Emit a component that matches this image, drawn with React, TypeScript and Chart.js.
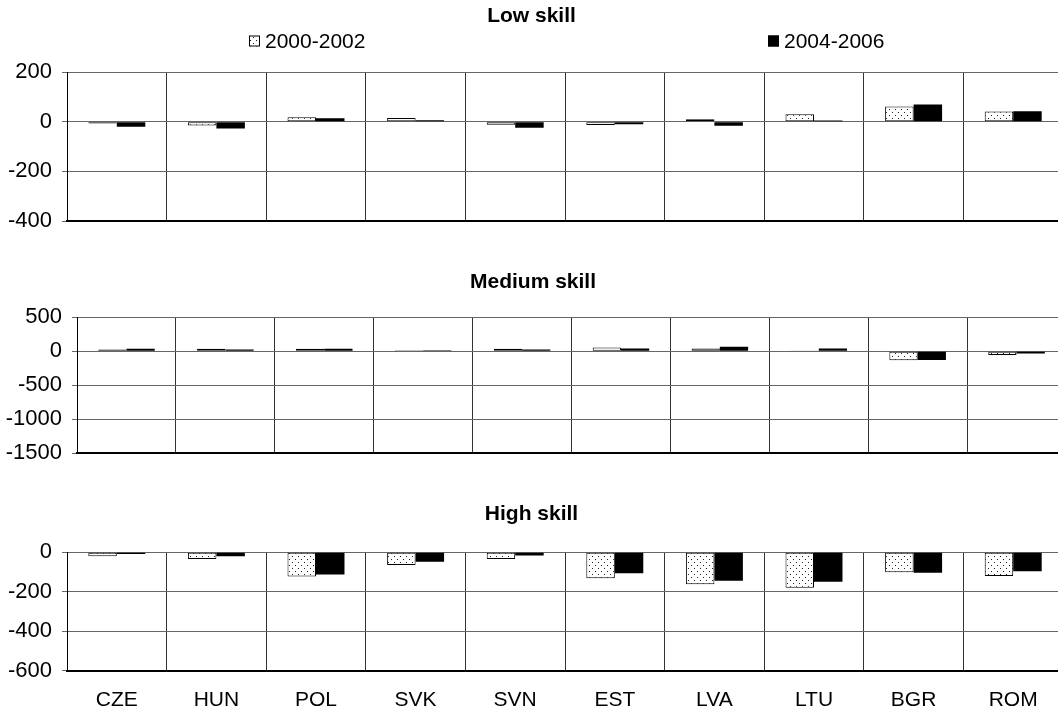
import React, { useEffect, useRef } from 'react';
import { Chart, registerables } from 'chart.js';

Chart.register(...registerables);

const categories = ['CZE', 'HUN', 'POL', 'SVK', 'SVN', 'EST', 'LVA', 'LTU', 'BGR', 'ROM'];
const seriesLabels = ['2000-2002', '2004-2006'];

const lowA = [-7, -15, 18, 15, -12, -13, 10, 30, 62, 42];
const lowB = [-20, -27, 14, 6, -24, -10, -16, 5, 70, 43];

const medA = [25, 35, 35, 15, 35, 55, 40, 10, -135, -55];
const medB = [35, 25, 35, 12, 25, 40, 65, 40, -130, -35];

const highA = [-21, -34, -123, -65, -34, -132, -162, -180, -101, -121];
const highB = [-9, -21, -113, -48, -17, -106, -144, -150, -104, -97];

const lowTicks = [-400, 200, 200];
const medTicks = [-1500, 500, 500];
const highTicks = [-600, 0, 200];

const FONT = "'Liberation Sans', Arial, Helvetica, sans-serif";

function makeDotPattern(): CanvasPattern | string {
  const c = document.createElement('canvas');
  c.width = 6;
  c.height = 6;
  const g = c.getContext('2d');
  if (!g) return '#ddd';
  g.fillStyle = '#ffffff';
  g.fillRect(0, 0, 6, 6);
  g.fillStyle = '#222222';
  g.fillRect(1, 1, 1, 1);
  g.fillRect(4, 4, 1, 1);
  const p = g.createPattern(c, 'repeat');
  return p || '#ddd';
}

const legendPlugin = {
  id: 'manualLegend',
  afterDraw(chart: any, _args: any, opts: any) {
    if (!opts || !opts.show) return;
    const ctx = chart.ctx;
    ctx.save();
    chart.data.datasets.forEach((ds: any, i: number) => {
      const x = opts.xs[i];
      const y = opts.y;
      const s = 11;
      ctx.fillStyle = ds.backgroundColor;
      ctx.fillRect(x, y - s / 2, s, s);
      ctx.strokeStyle = '#000';
      ctx.lineWidth = 1;
      ctx.strokeRect(x + 0.5, y - s / 2 + 0.5, s - 1, s - 1);
      ctx.fillStyle = '#000';
      ctx.font = `21px ${FONT}`;
      ctx.textBaseline = 'middle';
      ctx.textAlign = 'left';
      ctx.fillText(ds.label, x + s + 5, y + 1);
    });
    ctx.restore();
  },
};

type PanelProps = {
  title: string;
  a: number[];
  b: number[];
  ticks: number[];
  top: number;
  width: number;
  height: number;
  axisWidth: number;
  padRight: number;
  padBottom: number;
  titleTop: number;
  titleBottom: number;
  showLegend: boolean;
  showX: boolean;
};

function Panel(p: PanelProps) {
  const ref = useRef<HTMLCanvasElement>(null);
  useEffect(() => {
    if (!ref.current) return;
    const pattern = makeDotPattern();
    const chart = new Chart(ref.current, {
      type: 'bar',
      data: {
        labels: categories,
        datasets: [
          {
            label: seriesLabels[0],
            data: p.a,
            backgroundColor: pattern as any,
            borderColor: '#000',
            borderWidth: 1,
            borderSkipped: false,
          },
          {
            label: seriesLabels[1],
            data: p.b,
            backgroundColor: '#000',
            borderColor: '#000',
            borderWidth: 0,
            borderSkipped: false,
          },
        ],
      },
      options: {
        responsive: false,
        animation: false,
        devicePixelRatio: 1,
        maintainAspectRatio: false,
        datasets: { bar: { categoryPercentage: 0.572, barPercentage: 1 } },
        layout: { padding: { left: 0, right: p.padRight, top: 0, bottom: p.padBottom } },
        plugins: {
          legend: { display: false },
          tooltip: { enabled: false },
          title: {
            display: true,
            text: p.title,
            color: '#000',
            font: { family: FONT, size: 21, weight: 'bold', lineHeight: 1.2 },
            padding: { top: p.titleTop, bottom: p.titleBottom },
          },
          manualLegend: { show: p.showLegend, xs: [249, 768], y: 41 },
        } as any,
        scales: {
          x: {
            grid: { offset: true, color: '#333', drawTicks: false, lineWidth: 1 },
            border: { color: '#000', width: 2 },
            ticks: {
              display: p.showX,
              color: '#000',
              font: { family: FONT, size: 21 },
              padding: 17,
              maxRotation: 0,
              autoSkip: false,
            },
          },
          y: {
            min: p.ticks[0],
            max: p.ticks[1],
            afterFit: (scale: any) => {
              scale.width = p.axisWidth;
            },
            ticks: {
              stepSize: p.ticks[2],
              color: '#000',
              font: { family: FONT, size: 22 },
              padding: 10,
              callback: (v: any) => String(v),
            },
            grid: { color: '#666', tickLength: 5, lineWidth: 1 },
            border: { color: '#000', width: 1 },
          },
        },
      },
      plugins: [legendPlugin],
    });
    return () => chart.destroy();
  }, []);
  return (
    <div style={{ position: 'absolute', left: 0, top: p.top }}>
      <canvas
        ref={ref}
        width={p.width}
        height={p.height}
        style={{ display: 'block', width: p.width, height: p.height }}
      />
    </div>
  );
}

export default function App() {
  return (
    <div
      style={{
        position: 'fixed',
        left: 0,
        top: 0,
        width: 1058,
        height: 715,
        overflow: 'hidden',
        background: '#fff',
      }}
    >
      <Panel
        title="Low skill"
        a={lowA}
        b={lowB}
        ticks={lowTicks}
        top={0}
        width={1072}
        height={250}
        axisWidth={67}
        padRight={9}
        padBottom={29}
        titleTop={4}
        titleBottom={43}
        showLegend={true}
        showX={false}
      />
      <Panel
        title="Medium skill"
        a={medA}
        b={medB}
        ticks={medTicks}
        top={250}
        width={1072}
        height={230}
        axisWidth={77}
        padRight={6}
        padBottom={27}
        titleTop={20}
        titleBottom={22}
        showLegend={false}
        showX={false}
      />
      <Panel
        title="High skill"
        a={highA}
        b={highB}
        ticks={highTicks}
        top={480}
        width={1072}
        height={253}
        axisWidth={67}
        padRight={9}
        padBottom={3}
        titleTop={22}
        titleBottom={25}
        showLegend={false}
        showX={true}
      />
    </div>
  );
}
